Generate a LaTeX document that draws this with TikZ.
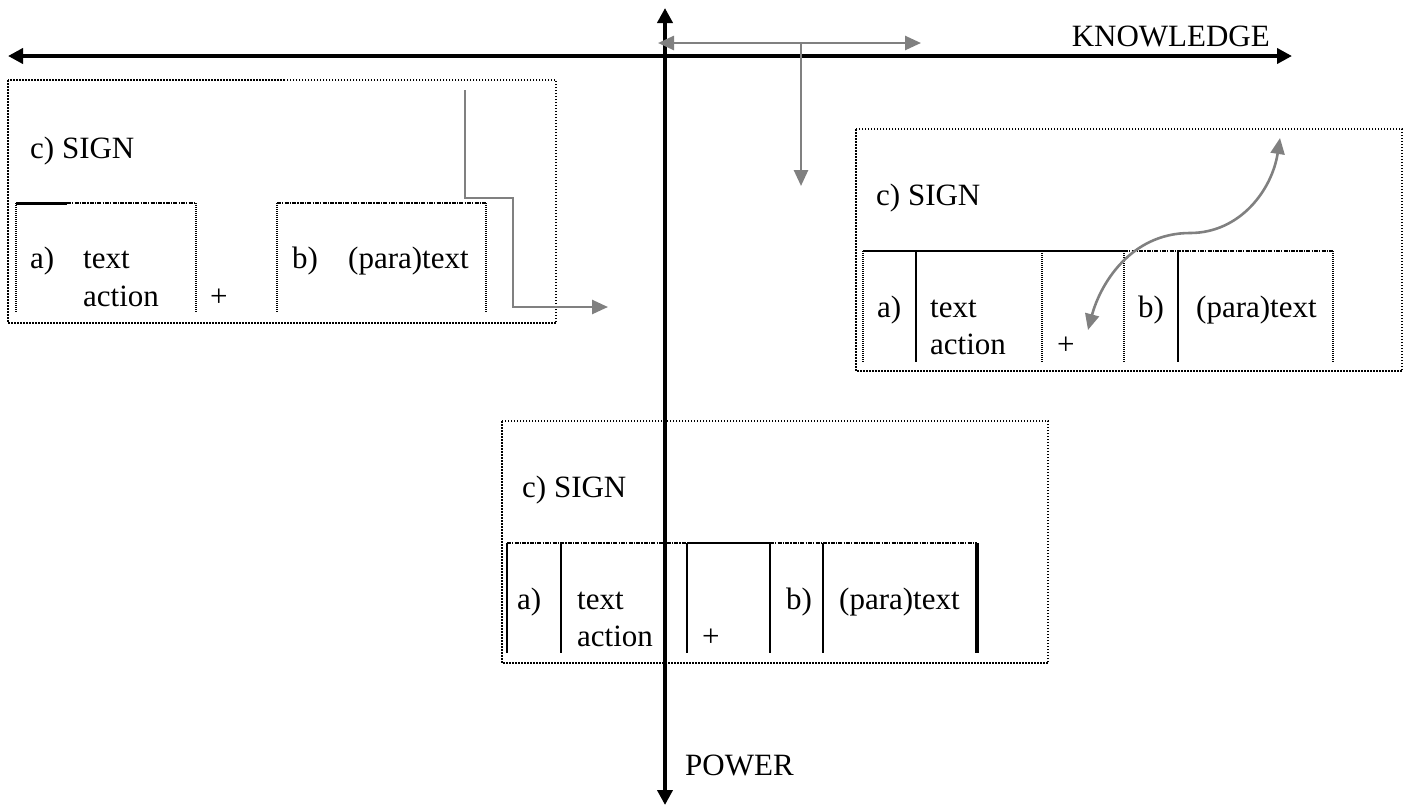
\documentclass[tikz,border=0pt]{standalone}
\usepackage{fontspec}
\setmainfont{Liberation Serif}
\usetikzlibrary{arrows.meta}
\definecolor{arrgray}{RGB}{128,128,128}
\begin{document}
\begin{tikzpicture}[x=1pt,y=-1pt,
  axis/.style={line width=4.5pt, {Triangle[length=15pt,width=15pt]}-{Triangle[length=15pt,width=15pt]}},
  garrow/.style={draw=arrgray, line width=2.6pt, -{Triangle[length=16pt,width=14pt]}},
  gboth/.style={draw=arrgray, line width=2.6pt, {Triangle[length=16pt,width=14pt]}-{Triangle[length=16pt,width=14pt]}},
  outerbox/.style={draw, line width=1.8pt, dash pattern=on 1.5pt off 1.5pt},
  dotside/.style={line width=2.6pt, dash pattern=on 1pt off 1pt},
  dashtop/.style={line width=2.4pt, dash pattern=on 4pt off 1.2pt on 1.2pt off 1.2pt},
  solidline/.style={line width=2.4pt},
  lbl/.style={inner sep=0pt, anchor=base west, font=\fontsize{31}{37}\selectfont},
]
\useasboundingbox (0,0) rectangle (1410,807);

% ---------- Box 1 (left) ----------
\draw[outerbox] (8,80) rectangle (556,323);
\draw[line width=3pt] (16,203) -- (67,203);
\draw[dashtop] (67,203) -- (196,203);
\draw[dotside] (16,203) -- (16,313);
\draw[dotside] (196,203) -- (196,313);
\draw[dashtop] (277,203) -- (486,203);
\draw[dotside] (277,203) -- (277,313);
\draw[dotside] (486,203) -- (486,313);
\node[lbl] (s1) at (30,158) {c) SIGN};
\node[lbl] (a1) at (30,268) {a)};
\node[lbl] (t1) at (83,268) {text};
\node[lbl] (ac1) at (83,306) {action};
\node[lbl] (p1) at (210,306) {+};
\node[lbl] (b1) at (292,268) {b)};
\node[lbl] (pt1) at (348,268) {(para)text};

% ---------- Box 2 (right) ----------
\draw[outerbox] (856,129) rectangle (1402,371);
\draw[solidline] (863,251) -- (1124,251);
\draw[dashtop] (1124,251) -- (1333,251);
\draw[dotside] (863,251) -- (863,362);
\draw[solidline] (916,251) -- (916,362);
\draw[dotside] (1042,251) -- (1042,362);
\draw[dotside] (1124,251) -- (1124,362);
\draw[solidline] (1178,251) -- (1178,362);
\draw[dotside] (1333,251) -- (1333,362);
\node[lbl] (s2) at (876,205) {c) SIGN};
\node[lbl] (a2) at (877,317) {a)};
\node[lbl] (t2) at (930,317) {text};
\node[lbl] (ac2) at (930,354) {action};
\node[lbl] (p2) at (1057,354) {+};
\node[lbl] (b2) at (1138,317) {b)};
\node[lbl] (pt2) at (1196,317) {(para)text};

% ---------- Box 3 (bottom) ----------
\draw[outerbox] (502,421) rectangle (1048,663);
\draw[dashtop] (507,543) -- (687,543);
\draw[solidline] (687,543) -- (770,543);
\draw[dashtop] (770,543) -- (977,543);
\draw[line width=2.8pt] (507,543) -- (507,653);
\draw[solidline] (561,543) -- (561,653);
\draw[solidline] (687,543) -- (687,653);
\draw[solidline] (770,543) -- (770,653);
\draw[solidline] (823,543) -- (823,653);
\draw[line width=4pt] (977,543) -- (977,653);
\node[lbl] (s3) at (522,497) {c) SIGN};
\node[lbl] (a3) at (517,609) {a)};
\node[lbl] (t3) at (577,609) {text};
\node[lbl] (ac3) at (577,646) {action};
\node[lbl] (p3) at (702,646) {+};
\node[lbl] (b3) at (786,609) {b)};
\node[lbl] (pt3) at (839,609) {(para)text};

% ---------- Axes ----------
\coordinate (hl) at (8,56);
\coordinate (hr) at (1292,56);
\coordinate (vt) at (665,8);
\coordinate (vb) at (665,805);
\draw[axis] (hl) -- (hr);
\draw[axis] (vt) -- (vb);
\node[lbl, anchor=base east] (know) at (1270,46) {KNOWLEDGE};
\node[lbl] (power) at (685,775) {POWER};

% ---------- Gray arrows ----------
\coordinate (tl) at (658,43);
\coordinate (tr) at (921,43);
\coordinate (tj) at (801,43);
\coordinate (td) at (801,186);
\draw[gboth] (tl) -- (tr);
\draw[garrow] (tj) -- (td);

\coordinate (e1) at (465,90);
\coordinate (e2) at (465,198);
\coordinate (e3) at (513,198);
\coordinate (e4) at (513,307);
\coordinate (e5) at (608,307);
\draw[garrow] (e1) -- (e2) -- (e3) -- (e4) -- (e5);

\coordinate (c1) at (1088,330);
\coordinate (cm) at (1190,233);
\coordinate (c2) at (1280,138);
\draw[gboth] (c1) .. controls (1100,285) and (1130,233) .. (cm) .. controls (1240,233) and (1272,190) .. (c2);
\end{tikzpicture}
\end{document}
